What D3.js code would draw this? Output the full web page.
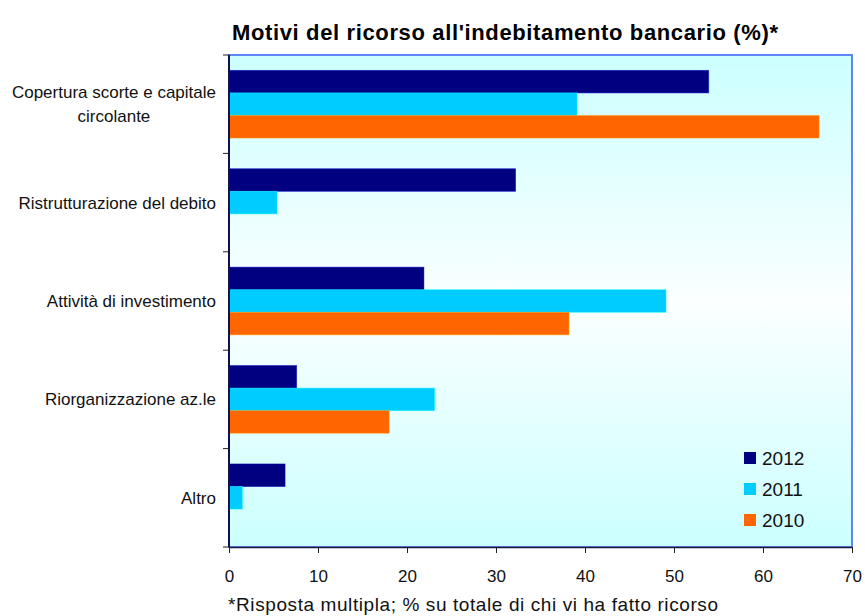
<!DOCTYPE html>
<html>
<head>
<meta charset="utf-8">
<script src="https://cdn.jsdelivr.net/npm/d3@7"></script>
<style>
  html, body { margin: 0; padding: 0; background: #ffffff; }
  svg { display: block; font-family: "Liberation Sans", Arial, Helvetica, sans-serif; }
</style>
</head>
<body>
<svg id="chart" width="865" height="616"></svg>
<script>
// Reasons for turning to bank borrowing, share of respondents (%)
const categories = [
  ["Copertura scorte e capitale", "circolante"],
  ["Ristrutturazione del debito"],
  ["Attività di investimento"],
  ["Riorganizzazione az.le"],
  ["Altro"]
];
const years = ["2012", "2011", "2010"];
const values2012 = [53.9, 32.2, 21.9, 7.6, 6.3];
const values2011 = [39.1, 5.4, 49.1, 23.1, 1.5];
const values2010 = [66.3, 0, 38.2, 18.0, 0];
const xTicks = [0, 10, 20, 30, 40, 50, 60, 70];
const colors = ["#000080", "#00ccff", "#ff6600"];

const seriesValues = [values2012, values2011, values2010];
const rows = categories.map((c, i) => ({
  key: c.join(" "),
  lines: c,
  vals: years.map((y, j) => ({ year: y, value: seriesValues[j][i], color: colors[j] }))
}));

const svg = d3.select("#chart");
const plot = { left: 229, right: 852, top: 55, bottom: 547 };

const x = d3.scaleLinear().domain([0, 70]).range([plot.left, plot.right]);
const y0 = d3.scaleBand().domain(rows.map(r => r.key)).range([plot.top, plot.bottom]).padding(0);
const y1 = d3.scaleBand().domain(years).range([0, y0.bandwidth()]).paddingInner(0).paddingOuter(0.68);

// Plot background: pale cyan fading to near white in the middle
const defs = svg.append("defs");
const grad = defs.append("linearGradient").attr("id", "bg").attr("x1", 0).attr("y1", 0).attr("x2", 0).attr("y2", 1);
grad.append("stop").attr("offset", "0%").attr("stop-color", "#ccffff");
grad.append("stop").attr("offset", "50%").attr("stop-color", "#fbffff");
grad.append("stop").attr("offset", "100%").attr("stop-color", "#ccffff");

svg.append("rect")
  .attr("x", plot.left).attr("y", plot.top)
  .attr("width", plot.right - plot.left).attr("height", plot.bottom - plot.top)
  .attr("fill", "url(#bg)")
  .attr("stroke", "#5f86f5").attr("stroke-width", 2);

// Bars
const groups = svg.append("g").selectAll("g")
  .data(rows).join("g")
  .attr("transform", d => `translate(0,${y0(d.key)})`);

groups.selectAll("rect")
  .data(d => d.vals.filter(v => v.value > 0))
  .join("rect")
  .attr("x", x(0))
  .attr("y", d => y1(d.year))
  .attr("width", d => x(d.value) - x(0))
  .attr("height", y1.bandwidth())
  .attr("fill", d => d.color)
  .attr("stroke", d => d3.color(d.color).brighter(1.2))
  .attr("stroke-width", 0.8)
  .attr("stroke-opacity", 0.6);

// Bottom axis
const xAxis = svg.append("g")
  .attr("transform", `translate(0,${plot.bottom})`)
  .call(d3.axisBottom(x).tickValues(xTicks).tickSize(6).tickSizeOuter(0).tickPadding(17));
xAxis.select(".domain").attr("stroke", "#1a1a40").attr("stroke-width", 1.5);
xAxis.selectAll(".tick line").attr("stroke", "#222");
xAxis.selectAll("text").attr("font-size", 17).attr("fill", "#111")
  .attr("font-family", "'Liberation Sans', Arial, sans-serif");

// Left axis: ticks at category boundaries
const boundaries = rows.map(r => y0(r.key)).concat([plot.bottom]);
svg.append("line")
  .attr("x1", plot.left).attr("x2", plot.left)
  .attr("y1", plot.top).attr("y2", plot.bottom)
  .attr("stroke", "#10104a").attr("stroke-width", 2);
svg.append("g").selectAll("line")
  .data(boundaries).join("line")
  .attr("x1", plot.left - 6).attr("x2", plot.left)
  .attr("y1", d => d).attr("y2", d => d)
  .attr("stroke", "#222").attr("stroke-width", 1);

// Category labels
const labelG = svg.append("g").attr("font-size", 17).attr("fill", "#111");
rows.forEach(r => {
  const cy = y0(r.key) + y0.bandwidth() / 2;
  const n = r.lines.length;
  const lh = 24;
  if (n === 1) {
    labelG.append("text").attr("x", 216).attr("y", cy).attr("dy", "0.35em")
      .attr("text-anchor", "end").text(r.lines[0]);
  } else {
    // Multi-line label: lines centred on each other, block right-aligned
    const t = labelG.append("text").attr("x", 0).attr("y", 0);
    r.lines.forEach((ln, i) => {
      t.append("tspan").attr("x", 0).attr("y", cy + (i - (n - 1) / 2) * lh).attr("dy", "0.35em")
        .attr("text-anchor", "middle").text(ln);
    });
    const w = t.node().getBBox().width;
    t.attr("transform", `translate(${216 - w / 2},0)`);
  }
});

// Legend
const legend = svg.append("g");
const legendY = [458, 489, 520];
years.forEach((yr, i) => {
  legend.append("rect").attr("x", 744).attr("y", legendY[i] - 6).attr("width", 12).attr("height", 12).attr("fill", colors[i]);
  legend.append("text").attr("x", 762).attr("y", legendY[i]).attr("dy", "0.36em")
    .attr("font-size", 19).attr("fill", "#111").text(yr);
});

// Title and footnote
svg.append("text").attr("x", 232).attr("y", 40)
  .attr("font-size", 22).attr("font-weight", "bold").attr("fill", "#000")
  .attr("textLength", 546).attr("lengthAdjust", "spacing")
  .text("Motivi del ricorso all'indebitamento bancario (%)*");
svg.append("text").attr("x", 228).attr("y", 611)
  .attr("font-size", 19).attr("fill", "#111")
  .attr("textLength", 490).attr("lengthAdjust", "spacing")
  .text("*Risposta multipla; % su totale di chi vi ha fatto ricorso");
</script>
</body>
</html>
